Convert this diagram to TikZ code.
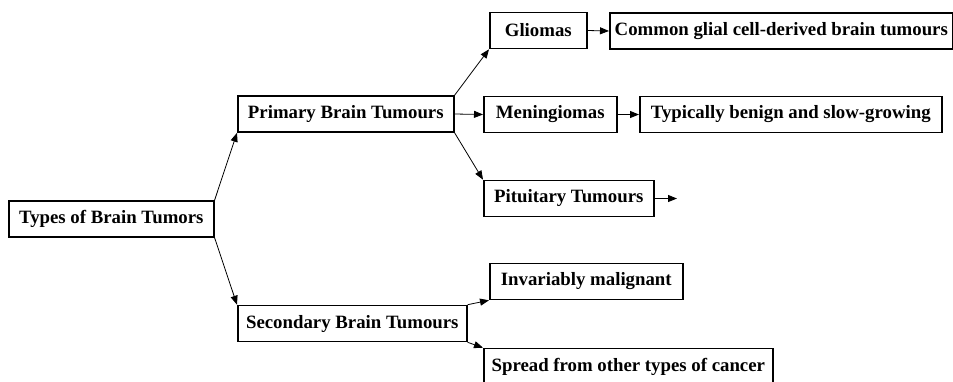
\documentclass[tikz,border=0pt]{standalone}
\usepackage{fontspec}
\setmainfont{Liberation Serif}
\usetikzlibrary{arrows.meta}

\begin{document}
\begin{tikzpicture}[x=1pt,y=-1pt,
    box/.style={draw,line width=1.6pt,anchor=west,minimum height=36pt,inner xsep=2pt,
      font=\fontsize{18.8}{20}\selectfont\bfseries},
    arr/.style={-{Triangle[length=9pt,width=7pt]},line width=0.8pt}]
      \useasboundingbox (0,0) rectangle (953,381);
      \node[box,minimum width=205pt] (types) at (8,219) {Types of Brain Tumors};
      \node[box,minimum width=216pt] (primary) at (237,114) {Primary Brain Tumours};
      \node[box,minimum width=229pt] (secondary) at (237,323.5) {Secondary Brain Tumours};
      \node[box,minimum width=97pt] (gliomas) at (489,30.5) {Gliomas};
      \node[box,minimum width=343pt] (glial) at (609,31) {Common glial cell-derived brain tumours};
      \node[box,minimum width=133pt] (mening) at (483,114.5) {Meningiomas};
      \node[box,minimum width=302pt] (benign) at (639,114.5) {Typically benign and slow-growing};
      \node[box,minimum width=170pt] (pituitary) at (483,198.5) {Pituitary Tumours};
      \node[box,minimum width=193pt] (malignant) at (489,281.5) {Invariably malignant};
      \node[box,minimum width=289pt] (spread) at (483,366.5) {Spread from other types of cancer};
      \coordinate (pitend) at (677,198.5);
      \draw[arr] (types.north east) -- (primary.south west);
      \draw[arr] (types.south east) -- (secondary.north west);
      \draw[arr] (primary.north east) -- (gliomas.south west);
      \draw[arr] (primary.east) -- (mening.west);
      \draw[arr] (primary.south east) -- (pituitary.north west);
      \draw[arr] (gliomas.east) -- (glial.west);
      \draw[arr] (mening.east) -- (benign.west);
      \draw[arr] (pituitary.east) -- (pitend);
      \draw[arr] (secondary.north east) -- (malignant.south west);
      \draw[arr] (secondary.south east) -- (spread.north west);
\end{tikzpicture}
\end{document}
